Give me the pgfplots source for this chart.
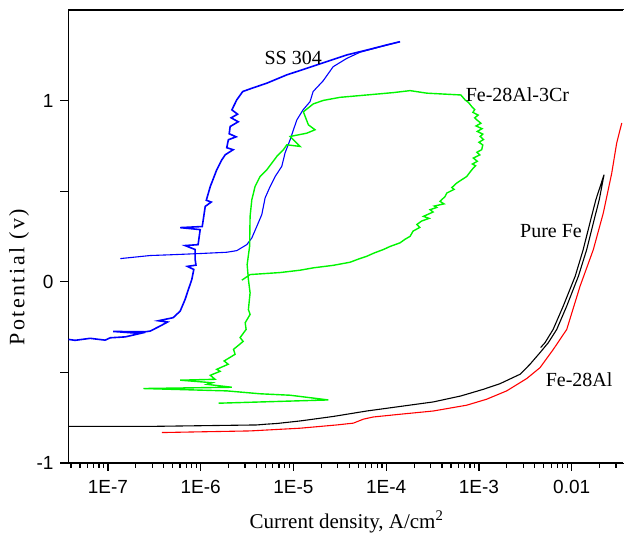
\documentclass[border=0pt]{standalone}
\usepackage{fontspec}
\setmainfont{Liberation Serif}
\setsansfont{Liberation Sans}
\usepackage{pgfplots}
\pgfplotsset{compat=1.18}
\usetikzlibrary{calc}
\definecolor{ssblue}{RGB}{0,0,255}
\definecolor{crgreen}{RGB}{0,245,0}
\definecolor{alred}{RGB}{255,0,0}

\begin{document}
\begin{tikzpicture}
\begin{axis}[
    name=ax,
    scale only axis,
    width=277.75pt, height=226.5pt,
    xmode=log,
    xmin=3.76e-8, xmax=3.66e-2,
    ymin=-1, ymax=1.5,
    axis line style={line width=0.75pt},
    tick align=outside,
    xtick pos=left, ytick pos=left,
    major tick length=4pt, minor tick length=2.5pt,
    every tick/.style={black, line width=0.6pt},
    xtick={1e-7,1e-6,1e-5,1e-4,1e-3,1e-2},
    xticklabels={1E-7,1E-6,1E-5,1E-4,1E-3,0.01},
    minor xtick={4e-8,5e-8,6e-8,7e-8,8e-8,9e-8,
      2e-7,3e-7,4e-7,5e-7,6e-7,7e-7,8e-7,9e-7,
      2e-6,3e-6,4e-6,5e-6,6e-6,7e-6,8e-6,9e-6,
      2e-5,3e-5,4e-5,5e-5,6e-5,7e-5,8e-5,9e-5,
      2e-4,3e-4,4e-4,5e-4,6e-4,7e-4,8e-4,9e-4,
      2e-3,3e-3,4e-3,5e-3,6e-3,7e-3,8e-3,9e-3,
      2e-2,3e-2},
    ytick={-1,-0.5,0,0.5,1},
    yticklabels={-1,,0,,1},
    tick label style={font=\fontsize{9.5}{10}\selectfont\sffamily},
    xticklabel style={yshift=-1pt},
    xlabel={Current density, A/cm\textsuperscript{2}},
    ylabel={\addfontfeatures{LetterSpace=11}Potential (v)},
    xlabel style={font=\fontsize{10.5}{12}\selectfont, at={(axis description cs:0.501,-0.1435)}, anchor=base},
    ylabel style={font=\fontsize{11}{12}\selectfont, at={(axis description cs:-0.089,0.41)}, anchor=center},
    every axis plot/.append style={line width=0.55pt},
  ]
  % Pure Fe
  \addplot[black] coordinates {
    (3.76e-8,-0.798) (2.86e-7,-0.798) (4.03e-6,-0.790) (5.0e-6,-0.786) (6.62e-6,-0.782)
    (1.18e-5,-0.768) (2.70e-5,-0.743) (6.18e-5,-0.713) (1.41e-4,-0.688)
    (3.22e-4,-0.663) (6.38e-4,-0.630) (1.12e-3,-0.593) (1.69e-3,-0.562)
    (2.78e-3,-0.510) (3.55e-3,-0.455) (4.55e-3,-0.391) (5.59e-3,-0.336)
    (6.89e-3,-0.263) (8.83e-3,-0.134) (1.18e-2,0.031) (1.45e-2,0.178)
    (1.71e-2,0.325) (1.98e-2,0.453) (2.23e-2,0.591)
    (1.82e-2,0.453) (1.57e-2,0.325) (1.33e-2,0.178) (1.09e-2,0.031)
    (8.1e-3,-0.134) (6.3e-3,-0.263) (5.15e-3,-0.336) (4.62e-3,-0.363)
  };
  % Fe-28Al
  \addplot[alred] coordinates {
    (3.82e-7,-0.832) (9.88e-7,-0.828) (3.41e-6,-0.823) (1.18e-5,-0.808)
    (2.93e-5,-0.790) (4.43e-5,-0.780) (5.68e-5,-0.758) (7.27e-5,-0.746)
    (1.41e-4,-0.731) (3.22e-4,-0.713) (7.38e-4,-0.681) (1.21e-3,-0.648)
    (1.99e-3,-0.602) (3.27e-3,-0.534) (4.55e-3,-0.474) (6.33e-3,-0.373)
    (8.83e-3,-0.263) (1.23e-2,-0.024) (1.71e-2,0.178) (2.19e-2,0.380)
    (2.70e-2,0.600) (3.05e-2,0.765) (3.46e-2,0.876)
  };
  % SS 304, forward scan (noisy)
  \addplot[ssblue, line width=0.8pt] coordinates {
    (3.76e-8,-0.318) (4.44e-8,-0.323) (6.44e-8,-0.312) (9.34e-8,-0.322)
    (1.06e-7,-0.309) (1.54e-7,-0.304) (2.23e-7,-0.285) (1.14e-7,-0.274)
    (2.52e-7,-0.276) (2.86e-7,-0.272) (3.66e-7,-0.244) (4.4e-7,-0.222)
    (3.5e-7,-0.215) (5.05e-7,-0.198)
    (6.01e-7,-0.162) (6.80e-7,-0.097) (7.38e-7,-0.042) (8.03e-7,0.013)
    (8.43e-7,0.068) (7.2e-7,0.085) (8.9e-7,0.092) (8.72e-7,0.123) (8.72e-7,0.178) (6.80e-7,0.200)
    (9.38e-7,0.205) (9.88e-7,0.288) (6.01e-7,0.299) (1.04e-6,0.305)
    (1.12e-6,0.416) (1.3e-6,0.440) (1.15e-6,0.450) (1.27e-6,0.526) (1.49e-6,0.618) (1.69e-6,0.673)
    (1.84e-6,0.701) (2.24e-6,0.729) (1.91e-6,0.740) (1.99e-6,0.784)
    (2.41e-6,0.800) (2.03e-6,0.817) (2.08e-6,0.857) (2.54e-6,0.883)
    (2.13e-6,0.905) (2.5e-6,0.925) (2.17e-6,0.949) (2.45e-6,1.004) (2.84e-6,1.050)
    (3.56e-6,1.068) (5.16e-6,1.096) (8.48e-6,1.142) (1.39e-5,1.178)
    (2.29e-5,1.215) (3.76e-5,1.252) (6.18e-5,1.279) (1.01e-4,1.307)
    (1.41e-4,1.325)
  };
  % SS 304, reverse scan
  \addplot[ssblue] coordinates {
    (1.41e-4,1.325)
    (9.25e-5,1.301) (5.23e-5,1.267) (3.76e-5,1.233) (2.68e-5,1.187)
    (2.09e-5,1.109) (1.63e-5,1.050) (1.51e-5,0.994) (1.27e-5,0.949)
    (1.09e-5,0.894) (1.00e-5,0.839) (9.21e-6,0.784) (8.13e-6,0.712)
    (7.49e-6,0.637) (6.35e-6,0.581) (5.61e-6,0.526) (4.95e-6,0.463)
    (4.56e-6,0.371) (4.03e-6,0.306) (3.56e-6,0.242) (3.14e-6,0.205)
    (2.45e-6,0.172) (1.91e-6,0.163) (9.88e-7,0.156) (4.69e-7,0.149)
    (2.86e-7,0.145) (1.36e-7,0.128)
  };
  % Fe-28Al-3Cr
  \addplot[crgreen, line width=0.7pt] coordinates {
    (1.56e-6,-0.670) (2.38e-5,-0.652) (9.21e-6,-0.626) (4.37e-6,-0.618)
    (1.91e-6,-0.602) (2.42e-7,-0.589) (2.17e-6,-0.582) (1.17e-6,-0.566)
    (1.33e-6,-0.557) (6.01e-7,-0.543) (1.43e-6,-0.538) (1.27e-6,-0.516)
    (1.62e-6,-0.494) (1.49e-6,-0.483) (1.98e-6,-0.455) (1.79e-6,-0.437)
    (2.35e-6,-0.400) (2.26e-6,-0.373) (2.87e-6,-0.329) (2.66e-6,-0.308)
    (3.09e-6,-0.263) (3.02e-6,-0.226) (3.41e-6,-0.180) (3.27e-6,-0.153)
    (3.41e-6,-0.061) (3.27e-6,0.013) (3.17e-6,0.095) (3.37e-6,0.196)
    (3.41e-6,0.361) (3.56e-6,0.453) (3.86e-6,0.526) (4.37e-6,0.581)
    (5.16e-6,0.618) (5.85e-6,0.655) (6.62e-6,0.692) (7.80e-6,0.729)
    (8.48e-6,0.756) (1.18e-5,0.747) (9.21e-6,0.802) (1.39e-5,0.820)
    (1.71e-5,0.839) (1.45e-5,0.866) (1.28e-5,0.938) (1.64e-5,0.982)
    (2.10e-5,1.001) (3.18e-5,1.018) (6.18e-5,1.031) (1.19e-4,1.044)
    (1.81e-4,1.055) (2.74e-4,1.041) (6.38e-4,1.031) (7.08e-4,1.004)
    (7.7e-4,0.990) (8.36e-4,0.967) (9.0e-4,0.950) (8.6e-4,0.935)
    (9.8e-4,0.920) (9.0e-4,0.905) (9.46e-4,0.894) (1.05e-3,0.875)
    (9.3e-4,0.860) (1.08e-3,0.845) (9.6e-4,0.830) (1.10e-3,0.815)
    (1.03e-3,0.802) (1.12e-3,0.785) (1.0e-3,0.770) (1.10e-3,0.755)
    (1.07e-3,0.729) (9.5e-4,0.715) (1.02e-3,0.700) (8.69e-4,0.683)
    (9.6e-4,0.665) (8.5e-4,0.650) (9.2e-4,0.640) (8.69e-4,0.628)
    (8.0e-4,0.605) (7.38e-4,0.581) (6.6e-4,0.565) (5.76e-4,0.545)
    (5.1e-4,0.520) (5.4e-4,0.510) (4.50e-4,0.490) (4.3e-4,0.470)
    (3.80e-4,0.444) (4.2e-4,0.430) (3.3e-4,0.418) (3.5e-4,0.410)
    (2.97e-4,0.398) (3.2e-4,0.385) (2.52e-4,0.361) (2.9e-4,0.350)
    (2.4e-4,0.335) (2.14e-4,0.316) (2.3e-4,0.300) (1.95e-4,0.280)
    (1.81e-4,0.251) (1.6e-4,0.235) (1.41e-4,0.215) (1.1e-4,0.195)
    (9.32e-5,0.178) (7.5e-5,0.160) (6.18e-5,0.141) (5.0e-5,0.125)
    (4.08e-5,0.108) (2.70e-5,0.091) (1.64e-5,0.077) (1.18e-5,0.064)
    (7.19e-6,0.051) (3.41e-6,0.040) (2.78e-6,0.009)
  };
  \node[font=\fontsize{10}{12}\selectfont] at (axis cs:9.93e-6,1.235) {SS 304};
  \node[font=\fontsize{10}{12}\selectfont] at (axis cs:2.60e-3,1.031) {Fe-28Al-3Cr};
  \node[font=\fontsize{10}{12}\selectfont] at (axis cs:5.98e-3,0.282) {Pure Fe};
  \node[font=\fontsize{10}{12}\selectfont] at (axis cs:1.20e-2,-0.538) {Fe-28Al};
\end{axis}
\draw[white, line width=1.2pt] (ax.south east) -- (ax.north east);
\pgfresetboundingbox
\path ($(ax.south west)+(-34.25pt,-35pt)$) rectangle ($(ax.north east)+(0pt,5pt)$);
\end{tikzpicture}
\end{document}
